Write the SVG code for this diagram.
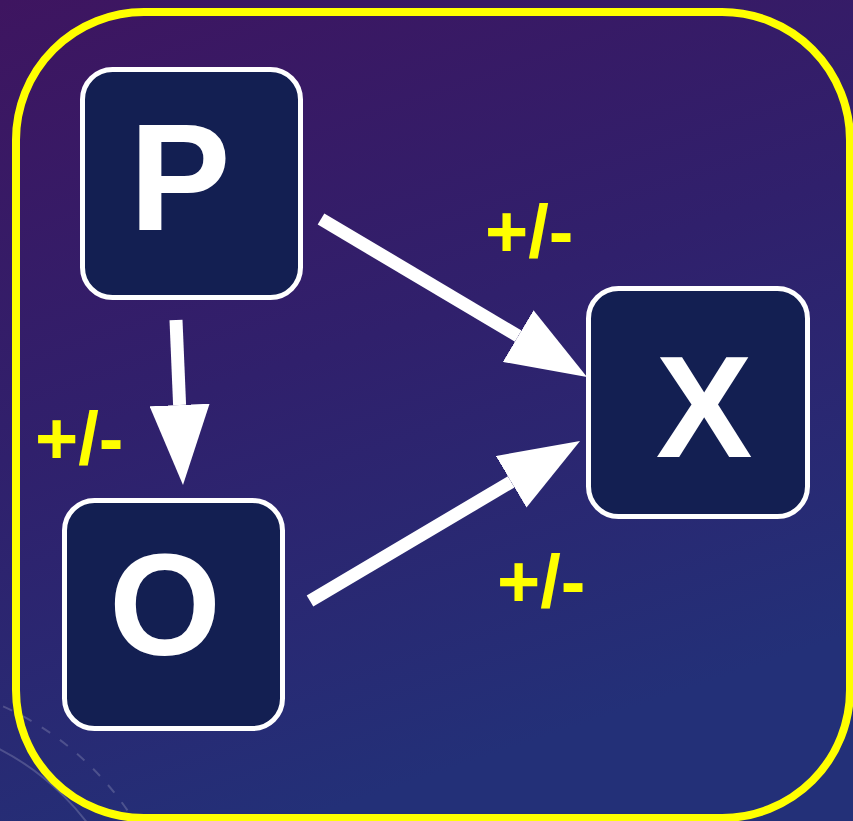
<svg xmlns="http://www.w3.org/2000/svg" width="853" height="821" viewBox="0 0 853 821">
<defs>
<linearGradient id="bg" x1="0" y1="0" x2="0.35" y2="1">
<stop offset="0" stop-color="#3e1560"/>
<stop offset="0.5" stop-color="#30206c"/>
<stop offset="1" stop-color="#233078"/>
</linearGradient>
<marker id="ah" viewBox="0 0 80 60" refX="0" refY="30" markerWidth="80" markerHeight="60" markerUnits="userSpaceOnUse" orient="auto">
<path d="M0,0 L80,30 L0,60 Z" fill="#ffffff"/>
</marker>
<style>
.node rect{fill:#131f52;stroke:#ffffff;stroke-width:5}
.node text{font-family:"Liberation Sans",Arial,sans-serif;font-weight:bold;fill:#ffffff;text-anchor:middle}
.conn line{stroke:#ffffff;stroke-width:13;marker-end:url(#ah)}
.lbl{font-family:"Liberation Sans",Arial,sans-serif;font-weight:bold;fill:#ffff00;font-size:74px}
</style>
</defs>
<rect x="0" y="0" width="853" height="821" fill="url(#bg)"/>
<g fill="none" stroke="#ffffff" stroke-opacity="0.18" stroke-width="2">
<circle cx="-120" cy="980" r="260"/>
<circle cx="-120" cy="980" r="300" stroke-dasharray="10 12"/>
</g>
<rect x="16" y="12" width="834" height="806" rx="128" ry="128" fill="none" stroke="#ffff00" stroke-width="8"/>
<g class="conn">
<line x1="176" y1="320" x2="179.6" y2="405"/>
<line x1="321" y1="219" x2="518.2" y2="336.1"/>
<line x1="310" y1="601" x2="511.2" y2="481.8"/>
</g>
<g id="P" class="node">
<rect x="82.5" y="69.5" width="218" height="228" rx="30"/>
<text x="180" y="230" font-size="152">P</text>
</g>
<g id="O" class="node">
<rect x="64.5" y="500.5" width="218" height="228" rx="30"/>
<text x="165" y="655" font-size="144">O</text>
</g>
<g id="X" class="node">
<rect x="588.5" y="288.5" width="219" height="228" rx="30"/>
<text x="704" y="457" font-size="145">X</text>
</g>
<g id="labels">
<text class="lbl" x="485" y="257">+/-</text>
<text class="lbl" x="35" y="464">+/-</text>
<text class="lbl" x="497" y="607">+/-</text>
</g>
</svg>
